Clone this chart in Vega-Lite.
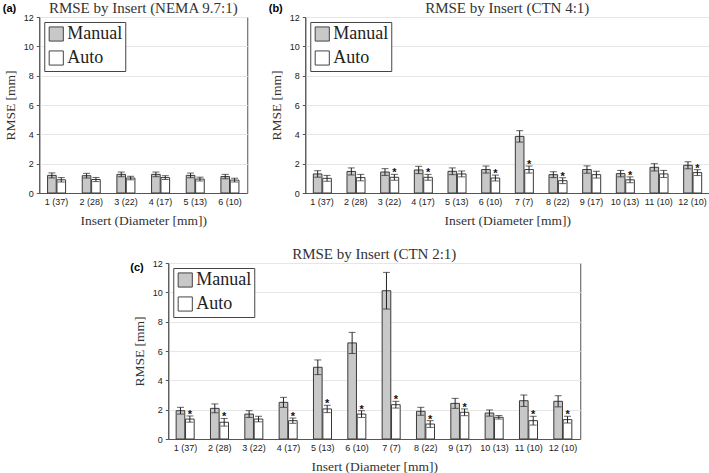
{
  "$schema": "https://vega.github.io/schema/vega-lite/v6.json",
  "padding": {"left": 2, "top": 0, "right": 3, "bottom": 0},
  "background": "white",
  "datasets": {
    "rmse": [
      {"panel": "a", "insert": "1 (37)", "method": "Manual", "rmse": 1.2, "lo": 1.03, "hi": 1.37, "sig": false},
      {"panel": "a", "insert": "1 (37)", "method": "Auto", "rmse": 0.9, "lo": 0.75, "hi": 1.05, "sig": false},
      {"panel": "a", "insert": "2 (28)", "method": "Manual", "rmse": 1.18, "lo": 1.02, "hi": 1.34, "sig": false},
      {"panel": "a", "insert": "2 (28)", "method": "Auto", "rmse": 0.92, "lo": 0.78, "hi": 1.06, "sig": false},
      {"panel": "a", "insert": "3 (22)", "method": "Manual", "rmse": 1.27, "lo": 1.11, "hi": 1.43, "sig": false},
      {"panel": "a", "insert": "3 (22)", "method": "Auto", "rmse": 1.02, "lo": 0.9, "hi": 1.14, "sig": false},
      {"panel": "a", "insert": "4 (17)", "method": "Manual", "rmse": 1.27, "lo": 1.11, "hi": 1.43, "sig": false},
      {"panel": "a", "insert": "4 (17)", "method": "Auto", "rmse": 1.05, "lo": 0.92, "hi": 1.18, "sig": false},
      {"panel": "a", "insert": "5 (13)", "method": "Manual", "rmse": 1.2, "lo": 1.04, "hi": 1.36, "sig": false},
      {"panel": "a", "insert": "5 (13)", "method": "Auto", "rmse": 0.95, "lo": 0.82, "hi": 1.08, "sig": false},
      {"panel": "a", "insert": "6 (10)", "method": "Manual", "rmse": 1.12, "lo": 0.97, "hi": 1.27, "sig": false},
      {"panel": "a", "insert": "6 (10)", "method": "Auto", "rmse": 0.88, "lo": 0.75, "hi": 1.01, "sig": false},

      {"panel": "b", "insert": "1 (37)", "method": "Manual", "rmse": 1.3, "lo": 1.08, "hi": 1.52, "sig": false},
      {"panel": "b", "insert": "1 (37)", "method": "Auto", "rmse": 1.0, "lo": 0.8, "hi": 1.2, "sig": false},
      {"panel": "b", "insert": "2 (28)", "method": "Manual", "rmse": 1.47, "lo": 1.23, "hi": 1.71, "sig": false},
      {"panel": "b", "insert": "2 (28)", "method": "Auto", "rmse": 1.05, "lo": 0.83, "hi": 1.27, "sig": false},
      {"panel": "b", "insert": "3 (22)", "method": "Manual", "rmse": 1.43, "lo": 1.2, "hi": 1.66, "sig": false},
      {"panel": "b", "insert": "3 (22)", "method": "Auto", "rmse": 1.07, "lo": 0.87, "hi": 1.27, "sig": true},
      {"panel": "b", "insert": "4 (17)", "method": "Manual", "rmse": 1.57, "lo": 1.32, "hi": 1.82, "sig": false},
      {"panel": "b", "insert": "4 (17)", "method": "Auto", "rmse": 1.07, "lo": 0.87, "hi": 1.27, "sig": true},
      {"panel": "b", "insert": "5 (13)", "method": "Manual", "rmse": 1.48, "lo": 1.25, "hi": 1.71, "sig": false},
      {"panel": "b", "insert": "5 (13)", "method": "Auto", "rmse": 1.3, "lo": 1.1, "hi": 1.5, "sig": false},
      {"panel": "b", "insert": "6 (10)", "method": "Manual", "rmse": 1.6, "lo": 1.36, "hi": 1.84, "sig": false},
      {"panel": "b", "insert": "6 (10)", "method": "Auto", "rmse": 1.02, "lo": 0.82, "hi": 1.22, "sig": true},
      {"panel": "b", "insert": "7 (7)", "method": "Manual", "rmse": 3.86, "lo": 3.47, "hi": 4.25, "sig": false},
      {"panel": "b", "insert": "7 (7)", "method": "Auto", "rmse": 1.6, "lo": 1.36, "hi": 1.84, "sig": true},
      {"panel": "b", "insert": "8 (22)", "method": "Manual", "rmse": 1.25, "lo": 1.05, "hi": 1.45, "sig": false},
      {"panel": "b", "insert": "8 (22)", "method": "Auto", "rmse": 0.84, "lo": 0.64, "hi": 1.04, "sig": true},
      {"panel": "b", "insert": "9 (17)", "method": "Manual", "rmse": 1.6, "lo": 1.35, "hi": 1.85, "sig": false},
      {"panel": "b", "insert": "9 (17)", "method": "Auto", "rmse": 1.25, "lo": 1.02, "hi": 1.48, "sig": false},
      {"panel": "b", "insert": "10 (13)", "method": "Manual", "rmse": 1.32, "lo": 1.1, "hi": 1.54, "sig": false},
      {"panel": "b", "insert": "10 (13)", "method": "Auto", "rmse": 0.9, "lo": 0.7, "hi": 1.1, "sig": true},
      {"panel": "b", "insert": "11 (10)", "method": "Manual", "rmse": 1.75, "lo": 1.5, "hi": 2.0, "sig": false},
      {"panel": "b", "insert": "11 (10)", "method": "Auto", "rmse": 1.3, "lo": 1.06, "hi": 1.54, "sig": false},
      {"panel": "b", "insert": "12 (10)", "method": "Manual", "rmse": 1.89, "lo": 1.65, "hi": 2.13, "sig": false},
      {"panel": "b", "insert": "12 (10)", "method": "Auto", "rmse": 1.39, "lo": 1.19, "hi": 1.59, "sig": true},

      {"panel": "c", "insert": "1 (37)", "method": "Manual", "rmse": 1.93, "lo": 1.7, "hi": 2.16, "sig": false},
      {"panel": "c", "insert": "1 (37)", "method": "Auto", "rmse": 1.36, "lo": 1.15, "hi": 1.57, "sig": true},
      {"panel": "c", "insert": "2 (28)", "method": "Manual", "rmse": 2.09, "lo": 1.79, "hi": 2.39, "sig": false},
      {"panel": "c", "insert": "2 (28)", "method": "Auto", "rmse": 1.14, "lo": 0.88, "hi": 1.4, "sig": true},
      {"panel": "c", "insert": "3 (22)", "method": "Manual", "rmse": 1.7, "lo": 1.47, "hi": 1.93, "sig": false},
      {"panel": "c", "insert": "3 (22)", "method": "Auto", "rmse": 1.36, "lo": 1.17, "hi": 1.55, "sig": false},
      {"panel": "c", "insert": "4 (17)", "method": "Manual", "rmse": 2.5, "lo": 2.16, "hi": 2.84, "sig": false},
      {"panel": "c", "insert": "4 (17)", "method": "Auto", "rmse": 1.25, "lo": 1.07, "hi": 1.43, "sig": true},
      {"panel": "c", "insert": "5 (13)", "method": "Manual", "rmse": 4.89, "lo": 4.39, "hi": 5.39, "sig": false},
      {"panel": "c", "insert": "5 (13)", "method": "Auto", "rmse": 2.05, "lo": 1.8, "hi": 2.3, "sig": true},
      {"panel": "c", "insert": "6 (10)", "method": "Manual", "rmse": 6.55, "lo": 5.83, "hi": 7.27, "sig": false},
      {"panel": "c", "insert": "6 (10)", "method": "Auto", "rmse": 1.7, "lo": 1.47, "hi": 1.93, "sig": true},
      {"panel": "c", "insert": "7 (7)", "method": "Manual", "rmse": 10.11, "lo": 8.86, "hi": 11.36, "sig": false},
      {"panel": "c", "insert": "7 (7)", "method": "Auto", "rmse": 2.34, "lo": 2.11, "hi": 2.57, "sig": true},
      {"panel": "c", "insert": "8 (22)", "method": "Manual", "rmse": 1.89, "lo": 1.62, "hi": 2.16, "sig": false},
      {"panel": "c", "insert": "8 (22)", "method": "Auto", "rmse": 1.02, "lo": 0.79, "hi": 1.25, "sig": true},
      {"panel": "c", "insert": "9 (17)", "method": "Manual", "rmse": 2.43, "lo": 2.09, "hi": 2.77, "sig": false},
      {"panel": "c", "insert": "9 (17)", "method": "Auto", "rmse": 1.82, "lo": 1.59, "hi": 2.05, "sig": true},
      {"panel": "c", "insert": "10 (13)", "method": "Manual", "rmse": 1.77, "lo": 1.56, "hi": 1.98, "sig": false},
      {"panel": "c", "insert": "10 (13)", "method": "Auto", "rmse": 1.48, "lo": 1.36, "hi": 1.6, "sig": false},
      {"panel": "c", "insert": "11 (10)", "method": "Manual", "rmse": 2.61, "lo": 2.22, "hi": 3.0, "sig": false},
      {"panel": "c", "insert": "11 (10)", "method": "Auto", "rmse": 1.25, "lo": 0.95, "hi": 1.55, "sig": true},
      {"panel": "c", "insert": "12 (10)", "method": "Manual", "rmse": 2.57, "lo": 2.19, "hi": 2.95, "sig": false},
      {"panel": "c", "insert": "12 (10)", "method": "Auto", "rmse": 1.32, "lo": 1.09, "hi": 1.55, "sig": true}
    ]
  },
  "data": {"name": "rmse"},
  "center": true,
  "spacing": 19,
  "resolve": {"scale": {"color": "independent", "x": "independent", "y": "independent"}, "legend": {"color": "independent"}},
  "vconcat": [
    {
      "hconcat": [
        {
          "title": {"text": "(a)", "anchor": "start", "frame": "bounds", "offset": -13, "font": "Liberation Sans", "fontWeight": "bold", "fontSize": 11, "color": "#000"},
          "resolve": {"scale": {"color": "independent"}, "legend": {"color": "independent"}},
          "vconcat": [
            {
              "width": 208, "height": 176,
              "title": "RMSE by Insert (NEMA 9.7:1)",
              "transform": [{"filter": "datum.panel === 'a'"}],
              "encoding": {
                "x": {"field": "insert", "type": "nominal", "sort": null, "title": "Insert (Diameter [mm])", "scale": {"paddingInner": 0.48, "paddingOuter": 0.24}},
                "xOffset": {"field": "method", "type": "nominal", "sort": ["Manual", "Auto"], "scale": {"paddingInner": 0.08}}
              },
              "layer": [
                {"mark": {"type": "bar", "stroke": "#3a3a3a", "strokeWidth": 1},
                 "encoding": {"y": {"field": "rmse", "type": "quantitative", "title": "RMSE [mm]", "scale": {"domain": [0, 12]}},
                              "color": {"field": "method", "type": "nominal", "sort": ["Manual", "Auto"], "scale": {"domain": ["Manual", "Auto"], "range": ["#c8c8c8", "#ffffff"]}, "legend": {"title": null}}}},
                {"mark": {"type": "rule", "color": "#222", "strokeWidth": 1},
                 "encoding": {"y": {"field": "lo", "type": "quantitative", "title": "RMSE [mm]"}, "y2": {"field": "hi"}}},
                {"mark": {"type": "tick", "color": "#222", "size": 7, "thickness": 1},
                 "encoding": {"y": {"field": "lo", "type": "quantitative", "title": "RMSE [mm]"}}},
                {"mark": {"type": "tick", "color": "#222", "size": 7, "thickness": 1},
                 "encoding": {"y": {"field": "hi", "type": "quantitative", "title": "RMSE [mm]"}}}
              ]
            }
          ]
        },
        {
          "title": {"text": "(b)", "anchor": "start", "frame": "bounds", "offset": -13, "font": "Liberation Sans", "fontWeight": "bold", "fontSize": 11, "color": "#000"},
          "resolve": {"scale": {"color": "independent"}, "legend": {"color": "independent"}},
          "vconcat": [
            {
              "width": 404, "height": 176,
              "title": "RMSE by Insert (CTN 4:1)",
              "transform": [{"filter": "datum.panel === 'b'"}],
              "encoding": {
                "x": {"field": "insert", "type": "nominal", "sort": null, "title": "Insert (Diameter [mm])", "scale": {"paddingInner": 0.48, "paddingOuter": 0.24}},
                "xOffset": {"field": "method", "type": "nominal", "sort": ["Manual", "Auto"], "scale": {"paddingInner": 0.08}}
              },
              "layer": [
                {"mark": {"type": "bar", "stroke": "#3a3a3a", "strokeWidth": 1},
                 "encoding": {"y": {"field": "rmse", "type": "quantitative", "title": "RMSE [mm]", "scale": {"domain": [0, 12]}},
                              "color": {"field": "method", "type": "nominal", "sort": ["Manual", "Auto"], "scale": {"domain": ["Manual", "Auto"], "range": ["#c8c8c8", "#ffffff"]}, "legend": {"title": null}}}},
                {"mark": {"type": "rule", "color": "#222", "strokeWidth": 1},
                 "encoding": {"y": {"field": "lo", "type": "quantitative", "title": "RMSE [mm]"}, "y2": {"field": "hi"}}},
                {"mark": {"type": "tick", "color": "#222", "size": 7, "thickness": 1},
                 "encoding": {"y": {"field": "lo", "type": "quantitative", "title": "RMSE [mm]"}}},
                {"mark": {"type": "tick", "color": "#222", "size": 7, "thickness": 1},
                 "encoding": {"y": {"field": "hi", "type": "quantitative", "title": "RMSE [mm]"}}},
                {"transform": [{"filter": "datum.sig"}],
                 "mark": {"type": "text", "text": "*", "font": "Liberation Sans", "fontWeight": "bold", "fontSize": 11, "baseline": "alphabetic", "dy": 2, "color": "#111"},
                 "encoding": {"y": {"field": "hi", "type": "quantitative", "title": "RMSE [mm]"}}}
              ]
            }
          ]
        }
      ],
      "spacing": 20,
      "resolve": {"scale": {"color": "independent"}, "legend": {"color": "independent"}}
    },
    {
      "title": {"text": "(c)", "orient": "left", "anchor": "end", "angle": 0, "align": "left", "baseline": "top", "offset": -12, "dy": 15, "frame": "bounds", "font": "Liberation Sans", "fontWeight": "bold", "fontSize": 11, "color": "#000"},
      "resolve": {"scale": {"color": "independent"}, "legend": {"color": "independent"}},
      "vconcat": [
        {
          "width": 412, "height": 176,
          "title": "RMSE by Insert (CTN 2:1)",
          "transform": [{"filter": "datum.panel === 'c'"}],
          "encoding": {
            "x": {"field": "insert", "type": "nominal", "sort": null, "title": "Insert (Diameter [mm])", "scale": {"paddingInner": 0.46, "paddingOuter": 0.23}},
            "xOffset": {"field": "method", "type": "nominal", "sort": ["Manual", "Auto"], "scale": {"paddingInner": 0.08}}
          },
          "layer": [
            {"mark": {"type": "bar", "stroke": "#3a3a3a", "strokeWidth": 1},
             "encoding": {"y": {"field": "rmse", "type": "quantitative", "title": "RMSE [mm]", "scale": {"domain": [0, 12]}},
                          "color": {"field": "method", "type": "nominal", "sort": ["Manual", "Auto"], "scale": {"domain": ["Manual", "Auto"], "range": ["#c8c8c8", "#ffffff"]}, "legend": {"title": null}}}},
            {"mark": {"type": "rule", "color": "#222", "strokeWidth": 1},
             "encoding": {"y": {"field": "lo", "type": "quantitative", "title": "RMSE [mm]"}, "y2": {"field": "hi"}}},
            {"mark": {"type": "tick", "color": "#222", "size": 7, "thickness": 1},
             "encoding": {"y": {"field": "lo", "type": "quantitative", "title": "RMSE [mm]"}}},
            {"mark": {"type": "tick", "color": "#222", "size": 7, "thickness": 1},
             "encoding": {"y": {"field": "hi", "type": "quantitative", "title": "RMSE [mm]"}}},
            {"transform": [{"filter": "datum.sig"}],
             "mark": {"type": "text", "text": "*", "font": "Liberation Sans", "fontWeight": "bold", "fontSize": 11, "baseline": "alphabetic", "dy": 2, "color": "#111"},
             "encoding": {"y": {"field": "hi", "type": "quantitative", "title": "RMSE [mm]"}}}
          ]
        }
      ]
    }
  ],
  "config": {
    "view": {"stroke": "#555", "strokeWidth": 1},
    "font": "Liberation Sans",
    "title": {"font": "Liberation Serif", "fontSize": 15, "fontWeight": "normal", "color": "#333", "offset": -3},
    "axis": {
      "labelFont": "Liberation Sans", "labelFontSize": 9, "labelColor": "#222",
      "titleFont": "Liberation Serif", "titleFontSize": 13.5, "titleFontWeight": "normal", "titleColor": "#333",
      "gridColor": "#e6e6e6", "domainColor": "#555", "tickColor": "#555", "tickSize": 3, "labelPadding": 3
    },
    "axisX": {"labelAngle": 0, "ticks": false, "tickSize": 0, "grid": false, "titlePadding": 7, "labelPadding": 4},
    "axisY": {"values": [0, 2, 4, 6, 8, 10, 12], "titlePadding": 6},
    "legend": {
      "orient": "top-left", "offset": 5, "fillColor": "white", "strokeColor": "#444",
      "padding": 3, "symbolType": "square", "symbolSize": 200, "symbolStrokeColor": "#444",
      "symbolStrokeWidth": 1, "labelFont": "Liberation Serif", "labelFontSize": 18,
      "labelColor": "#222", "rowPadding": 4, "labelOffset": 2, "labelLimit": 200
    }
  }
}
